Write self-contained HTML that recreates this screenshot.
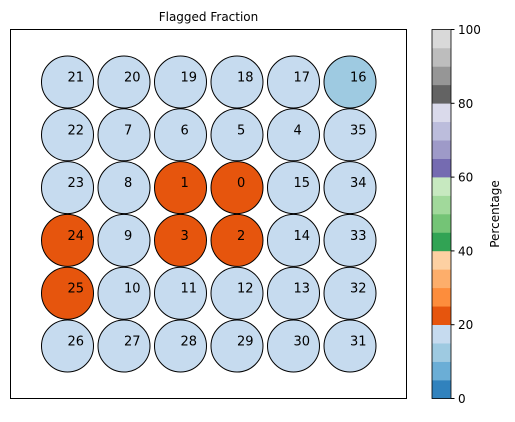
<!DOCTYPE html>
<html><head><meta charset="utf-8"><style>
body{margin:0;background:#fff;font-family:"Liberation Sans","DejaVu Sans",sans-serif}
svg text{font-family:"DejaVu Sans","Liberation Sans",sans-serif}
</style></head><body>
<svg id="c" width="515" height="417">
<text x="208.5" y="21" font-size="12" text-anchor="middle">Flagged Fraction</text>
<rect x="10.5" y="29.5" width="396" height="369" fill="none" stroke="#000"/>
<g id="marks"></g>
<g id="cbar"></g>
</svg>
<script>
const gridIds = [[21,20,19,18,17,16],[22,7,6,5,4,35],[23,8,1,0,15,34],[24,9,3,2,14,33],[25,10,11,12,13,32],[26,27,28,29,30,31]];
const channelIds = [0,1,2,3,24,25,16];
const channelValues = [22,22,22,22,22,22,12];
const defaultValue = 17;
const cbarTicks = [0,20,40,60,80,100];
const cmap = ['#3182bd','#6baed6','#9ecae1','#c6dbef','#e6550d','#fd8d3c','#fdae6b','#fdd0a2','#31a354','#74c476','#a1d99b','#c7e9c0','#756bb1','#9e9ac8','#bcbddc','#dadaeb','#636363','#969696','#bdbdbd','#d9d9d9'];
const NS='http://www.w3.org/2000/svg';
function colX(c){return 67.5+c*56.5;}
function rowY(r){return 82+r*52.8;}
function colorFor(v){return cmap[Math.min(19,Math.max(0,Math.floor(v/5)))];}
function valueOf(id){const i=channelIds.indexOf(id);return i>=0?channelValues[i]:defaultValue;}
const marks=document.getElementById('marks');
gridIds.forEach((row,r)=>row.forEach((id,c)=>{
  const ci=document.createElementNS(NS,'circle');
  ci.setAttribute('cx',colX(c));ci.setAttribute('cy',rowY(r));ci.setAttribute('r',26);
  ci.setAttribute('fill',colorFor(valueOf(id)));ci.setAttribute('stroke','#000');
  
  
  marks.appendChild(ci);
  const t=document.createElementNS(NS,'text');
  t.setAttribute('x',colX(c));t.setAttribute('y',rowY(r)-0.5);t.setAttribute('font-size','13');
  t.textContent=id;
  
  
  marks.appendChild(t);
}));
const cb=document.getElementById('cbar');
const cx0=432,cw=19,ctop=29.5,cbot=398.5;
function cy(v){return cbot-(v/100)*(cbot-ctop);}
cmap.forEach((col,i)=>{
  const rc=document.createElementNS(NS,'rect');
  rc.setAttribute('x',cx0);rc.setAttribute('y',cy((i+1)*5));rc.setAttribute('width',cw);
  rc.setAttribute('height',cy(i*5)-cy((i+1)*5)+0.3);rc.setAttribute('fill',col);
  
  
  cb.appendChild(rc);
});
const fr=document.createElementNS(NS,'rect');
fr.setAttribute('x',cx0);fr.setAttribute('y',ctop);fr.setAttribute('width',cw);fr.setAttribute('height',cbot-ctop);
fr.setAttribute('fill','none');fr.setAttribute('stroke','#000');fr.setAttribute('stroke-width','0.8');


cb.appendChild(fr);
cbarTicks.forEach(v=>{
  const l=document.createElementNS(NS,'line');
  l.setAttribute('x1',cx0+cw);l.setAttribute('x2',cx0+cw+3.5);l.setAttribute('y1',cy(v));l.setAttribute('y2',cy(v));l.setAttribute('stroke','#000');
  
  
  cb.appendChild(l);
  const t=document.createElementNS(NS,'text');
  t.setAttribute('x',cx0+cw+7);t.setAttribute('y',cy(v)+4.5);t.setAttribute('font-size','12');t.textContent=v;
  
  
  cb.appendChild(t);
});
const lab=document.createElementNS(NS,'text');
lab.setAttribute('x',499);lab.setAttribute('y',214);lab.setAttribute('font-size','12');lab.setAttribute('text-anchor','middle');
lab.setAttribute('transform','rotate(-90 499 214)');lab.textContent='Percentage';


cb.appendChild(lab);
</script>
</body></html>
